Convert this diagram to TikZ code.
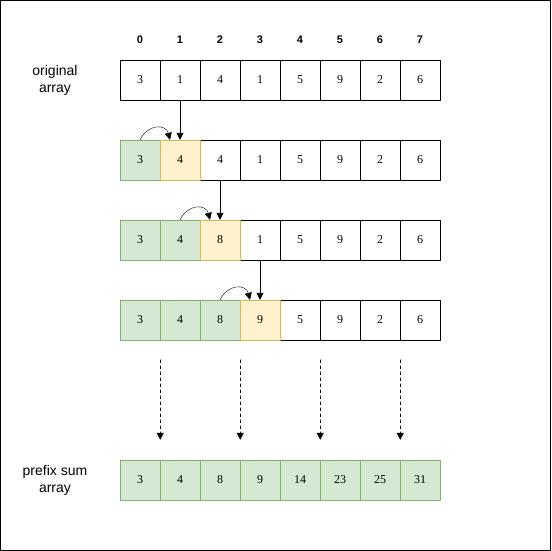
\documentclass[tikz,border=0pt]{standalone}
\usepackage{fontspec}
\setmainfont{Liberation Serif}
\newfontfamily\labelfont{Liberation Sans}
\usetikzlibrary{calc}
\usetikzlibrary{arrows.meta}

\definecolor{greenfill}{HTML}{D5E8D4}
\definecolor{greenline}{HTML}{82B366}
\definecolor{yellowfill}{HTML}{FFF2CC}
\definecolor{yellowline}{HTML}{D6B656}

\begin{document}
\begin{tikzpicture}[x=1pt, y=-1pt, line cap = round, line join = round, >={Triangle[length=7pt, width=7pt]}]
\tikzstyle{cell}=[draw=black, fill=white, minimum width=40pt, minimum height=40pt, inner sep=0pt, font=\fontsize{12}{14}\selectfont]
\tikzstyle{done}=[cell, draw=greenline, fill=greenfill]
\tikzstyle{curr}=[cell, draw=yellowline, fill=yellowfill]
\tikzstyle{caption}=[align=center, font=\labelfont\fontsize{14}{17}\selectfont]
\tikzstyle{index}=[font=\labelfont\bfseries\fontsize{11}{12}\selectfont]
\useasboundingbox (0,0) rectangle (551,551);
\draw[line width=0.8pt] (0.5,0.5) rectangle (550.5,550.5);

% indices
\foreach \i in {0,...,7}
  \node[index] (idx\i) at (140+40*\i, 40) {\i};

% original array
\node[caption] (orig) at (55,80) {original\\array};
\foreach \v [count=\i from 0] in {3,1,4,1,5,9,2,6}
  \node[cell] (a\i) at (140+40*\i, 80) {\v};

% step 1
\foreach \v [count=\i from 0] in {3,4,4,1,5,9,2,6}
  \node[cell] (b\i) at (140+40*\i, 160) {\v};
\node[done] at (b0) {3};
\node[curr] at (b1) {4};

% step 2
\foreach \v [count=\i from 0] in {3,4,8,1,5,9,2,6}
  \node[cell] (c\i) at (140+40*\i, 240) {\v};
\node[done] at (c0) {3};
\node[done] at (c1) {4};
\node[curr] at (c2) {8};

% step 3
\foreach \v [count=\i from 0] in {3,4,8,9,5,9,2,6}
  \node[cell] (d\i) at (140+40*\i, 320) {\v};
\node[done] at (d0) {3};
\node[done] at (d1) {4};
\node[done] at (d2) {8};
\node[curr] at (d3) {9};

% prefix sum array
\node[caption] (pre) at (55,480) {prefix sum\\array};
\foreach \v [count=\i from 0] in {3,4,8,9,14,23,25,31}
  \node[done] (e\i) at (140+40*\i, 480) {\v};

\draw[->] (a1.south) -- (b1.north);
\draw[->] (b2.south) -- (c2.north);
\draw[->] (c3.south) -- (d3.north);

\draw[->] (b0.north) .. controls ($(b0.north)+(8,-16)$) and ($(b1.north)+(-14,-16)$) .. ($(b1.north)+(-10,0)$);
\draw[->] (c1.north) .. controls ($(c1.north)+(8,-16)$) and ($(c2.north)+(-14,-16)$) .. ($(c2.north)+(-10,0)$);
\draw[->] (d2.north) .. controls ($(d2.north)+(8,-16)$) and ($(d3.north)+(-14,-16)$) .. ($(d3.north)+(-10,0)$);

% remaining steps
\foreach \i in {0,2,4,6}
  \draw[dashed, ->] ($(e\i.north east)+(0,-100)$) -- ($(e\i.north east)+(0,-20)$);
\end{tikzpicture}
\end{document}
